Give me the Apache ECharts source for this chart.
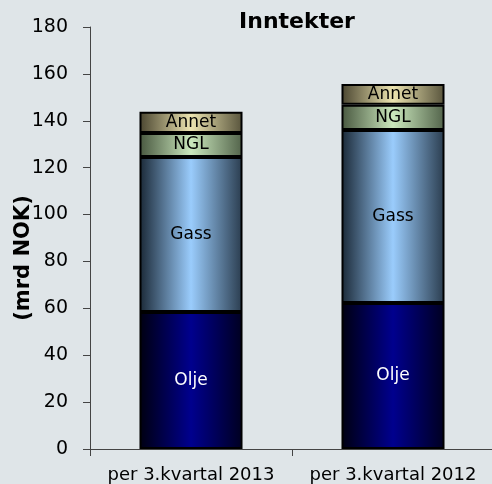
<!DOCTYPE html>
<html lang="no">
<head>
  <meta charset="UTF-8">
  <title>Inntekter</title>
  <script src="https://cdn.jsdelivr.net/npm/echarts@6/dist/echarts.min.js"></script>
  <style>
    html, body { margin: 0; padding: 0; background: #dfe5e8; }
    #chart { width: 492px; height: 484px; }
  </style>
</head>
<body>
  <div id="chart"></div>
  <script>
    var categories = ['per 3.kvartal 2013', 'per 3.kvartal 2012']
    var olje = [58.4, 62.3]
    var gass = [66.2, 73.8]
    var ngl = [10.2, 10.7]
    var annet = [9.0, 8.9]
    var yTicks = [0, 20, 40, 60, 80, 100, 120, 140, 160, 180]

    function grad (edgeL, mid, edgeR) {
      return new echarts.graphic.LinearGradient(0, 0, 1, 0, [
        { offset: 0, color: edgeL },
        { offset: 0.5, color: mid },
        { offset: 1, color: edgeR }
      ])
    }

    function part (name, data, fill, textColor) {
      return {
        name: name,
        type: 'bar',
        stack: 'sum',
        barWidth: '51%',
        data: data,
        itemStyle: { color: fill, borderColor: '#000', borderWidth: 2 },
        label: {
          show: true,
          position: 'inside',
          formatter: name,
          color: textColor,
          fontFamily: 'DejaVu Sans',
          fontSize: 17
        }
      }
    }

    var chart = echarts.init(document.getElementById('chart'))
    chart.setOption({
      backgroundColor: '#dfe5e8',
      animation: false,
      title: {
        text: 'Inntekter',
        left: 292,
        top: 6,
        textAlign: 'center',
        textStyle: { fontFamily: 'DejaVu Sans', fontSize: 22, fontWeight: 'bold', color: '#000' }
      },
      grid: { left: 90, top: 27, width: 404, height: 422, containLabel: false, outerBoundsMode: 'none' },
      xAxis: {
        type: 'category',
        data: categories,
        axisLine: { lineStyle: { color: '#444', width: 1 } },
        axisTick: { show: true, length: 7, lineStyle: { color: '#444' } },
        axisLabel: { interval: 0, margin: 17, color: '#000', fontFamily: 'DejaVu Sans', fontSize: 18 }
      },
      yAxis: {
        type: 'value',
        min: yTicks[0],
        max: yTicks[yTicks.length - 1],
        interval: 20,
        name: '(mrd NOK)',
        nameLocation: 'middle',
        nameGap: 56,
        nameMoveOverlap: false,
        nameTextStyle: {
          fontFamily: 'DejaVu Sans',
          fontSize: 21,
          fontWeight: 'bold',
          color: '#000',
          padding: [0, 40, 0, 0]
        },
        splitLine: { show: false },
        axisLine: { show: true, lineStyle: { color: '#444', width: 1 } },
        axisTick: { show: true, length: 7, lineStyle: { color: '#444' } },
        axisLabel: { margin: 22, color: '#000', fontFamily: 'DejaVu Sans', fontSize: 19 }
      },
      series: [
        part('Olje', olje, grad('#000010', '#00008e', '#000020'), '#fff'),
        part('Gass', gass, grad('#1a2836', '#9accfc', '#2a3c4e'), '#000'),
        part('NGL', ngl, grad('#48573f', '#cbe8bd', '#52634a'), '#000'),
        part('Annet', annet, grad('#4a4530', '#ece4b0', '#58543c'), '#000')
      ]
    })
  </script>
</body>
</html>
